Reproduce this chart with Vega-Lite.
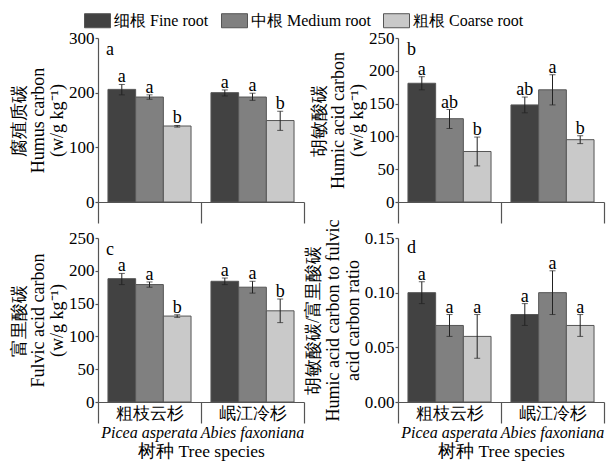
{
  "$schema": "https://vega.github.io/schema/vega-lite/v6.json",
  "padding": {"left": 10, "top": 7, "right": 6, "bottom": 2},
  "background": "#ffffff",
  "config": {
    "font": "Liberation Serif",
    "view": {"stroke": null},
    "axis": {
      "grid": false,
      "domainColor": "#555555",
      "tickColor": "#555555",
      "domainWidth": 1.2,
      "tickWidth": 1.2,
      "labelColor": "#000000",
      "titleColor": "#000000",
      "labelFont": "Liberation Serif",
      "titleFont": "Liberation Serif",
      "titleFontWeight": "normal",
      "labelFontSize": 17,
      "titleFontSize": 18
    },
    "legend": {
      "labelFont": "Liberation Serif",
      "labelFontSize": 16,
      "labelColor": "#000000",
      "symbolType": "M-1,-0.54H1V0.54H-1Z",
      "symbolSize": 676,
      "symbolStrokeColor": "#555555",
      "symbolStrokeWidth": 1,
      "symbolOpacity": 1,
      "columnPadding": 10,
      "labelOffset": 3
    }
  },
  "data": {"values": [
    {"panel": "a", "species": "粗枝云杉", "root": "细根 Fine root", "value": 206, "lo": 196, "hi": 215, "sig": "a"},
    {"panel": "a", "species": "粗枝云杉", "root": "中根 Medium root", "value": 192, "lo": 188, "hi": 196, "sig": "a"},
    {"panel": "a", "species": "粗枝云杉", "root": "粗根 Coarse root", "value": 139, "lo": 137, "hi": 140, "sig": "b"},
    {"panel": "a", "species": "岷江冷杉", "root": "细根 Fine root", "value": 200, "lo": 194, "hi": 205, "sig": "a"},
    {"panel": "a", "species": "岷江冷杉", "root": "中根 Medium root", "value": 192, "lo": 186, "hi": 199, "sig": "a"},
    {"panel": "a", "species": "岷江冷杉", "root": "粗根 Coarse root", "value": 149, "lo": 131, "hi": 166, "sig": "b"},
    {"panel": "b", "species": "粗枝云杉", "root": "细根 Fine root", "value": 181, "lo": 171, "hi": 191, "sig": "a"},
    {"panel": "b", "species": "粗枝云杉", "root": "中根 Medium root", "value": 127, "lo": 112, "hi": 141, "sig": "ab"},
    {"panel": "b", "species": "粗枝云杉", "root": "粗根 Coarse root", "value": 77, "lo": 55, "hi": 99, "sig": "b"},
    {"panel": "b", "species": "岷江冷杉", "root": "细根 Fine root", "value": 148, "lo": 136, "hi": 160, "sig": "ab"},
    {"panel": "b", "species": "岷江冷杉", "root": "中根 Medium root", "value": 171, "lo": 148, "hi": 194, "sig": "a"},
    {"panel": "b", "species": "岷江冷杉", "root": "粗根 Coarse root", "value": 95, "lo": 89, "hi": 101, "sig": "b"},
    {"panel": "c", "species": "粗枝云杉", "root": "细根 Fine root", "value": 188, "lo": 179, "hi": 196, "sig": "a"},
    {"panel": "c", "species": "粗枝云杉", "root": "中根 Medium root", "value": 179, "lo": 175, "hi": 183, "sig": "a"},
    {"panel": "c", "species": "粗枝云杉", "root": "粗根 Coarse root", "value": 131, "lo": 129, "hi": 133, "sig": "b"},
    {"panel": "c", "species": "岷江冷杉", "root": "细根 Fine root", "value": 184, "lo": 179, "hi": 189, "sig": "a"},
    {"panel": "c", "species": "岷江冷杉", "root": "中根 Medium root", "value": 175, "lo": 166, "hi": 184, "sig": "a"},
    {"panel": "c", "species": "岷江冷杉", "root": "粗根 Coarse root", "value": 139, "lo": 121, "hi": 157, "sig": "b"},
    {"panel": "d", "species": "粗枝云杉", "root": "细根 Fine root", "value": 0.10, "lo": 0.09, "hi": 0.11, "sig": "a"},
    {"panel": "d", "species": "粗枝云杉", "root": "中根 Medium root", "value": 0.07, "lo": 0.06, "hi": 0.08, "sig": "a"},
    {"panel": "d", "species": "粗枝云杉", "root": "粗根 Coarse root", "value": 0.06, "lo": 0.04, "hi": 0.08, "sig": "a"},
    {"panel": "d", "species": "岷江冷杉", "root": "细根 Fine root", "value": 0.08, "lo": 0.07, "hi": 0.09, "sig": "a"},
    {"panel": "d", "species": "岷江冷杉", "root": "中根 Medium root", "value": 0.10, "lo": 0.08, "hi": 0.12, "sig": "a"},
    {"panel": "d", "species": "岷江冷杉", "root": "粗根 Coarse root", "value": 0.07, "lo": 0.06, "hi": 0.08, "sig": "a"}
  ]},
  "columns": 2,
  "bounds": "flush",
  "spacing": {"row": 36, "column": 94},
  "concat": [
    {
      "width": 206, "height": 164,
      "layer": [
        {"transform": [{"filter": "datum.panel === 'a'"}],
         "mark": {"type": "bar", "stroke": "#555555", "strokeWidth": 1},
         "encoding": {
           "x": {"field": "species", "type": "nominal", "sort": ["粗枝云杉", "岷江冷杉"], "scale": {"domain": ["粗枝云杉", "岷江冷杉"], "paddingInner": 0, "paddingOuter": 0}, "axis": {"orient": "bottom", "labels": false, "title": null, "tickBand": "extent", "tickSize": 21, "domain": true, "ticks": true}},
           "xOffset": {"field": "root", "type": "nominal", "sort": ["细根 Fine root", "中根 Medium root", "粗根 Coarse root"], "scale": {"paddingInner": 0, "paddingOuter": 0.36}},
           "y": {"field": "value", "type": "quantitative", "scale": {"domain": [0, 300], "nice": false}, "axis": {"values": [0, 100, 200, 300], "title": ["腐殖质碳", "Humus carbon", "(w/g kg⁻¹)"], "titleLineHeight": 19, "tickSize": 3, "labelPadding": 1, "titlePadding": 2, "labelFont": "Liberation Serif", "titleFont": "Liberation Serif"}},
           "color": {"field": "root", "type": "nominal", "sort": ["细根 Fine root", "中根 Medium root", "粗根 Coarse root"], "scale": {"domain": ["细根 Fine root", "中根 Medium root", "粗根 Coarse root"], "range": ["#424242", "#808080", "#c9c9c9"]}, "legend": {"orient": "none", "legendX": -14, "legendY": -31, "direction": "horizontal", "title": null}}
         }},
        {"transform": [{"filter": "datum.panel === 'a'"}],
         "mark": {"type": "rule", "color": "#222222", "strokeWidth": 1},
         "encoding": {
           "x": {"field": "species", "type": "nominal", "sort": ["粗枝云杉", "岷江冷杉"], "axis": {"orient": "bottom", "labels": false, "ticks": false, "domain": false, "title": null}},
           "xOffset": {"field": "root", "type": "nominal", "sort": ["细根 Fine root", "中根 Medium root", "粗根 Coarse root"]},
           "y": {"field": "lo", "type": "quantitative", "axis": {"values": [0, 100, 200, 300], "title": ["腐殖质碳", "Humus carbon", "(w/g kg⁻¹)"], "titleLineHeight": 19, "tickSize": 3, "labelPadding": 1, "titlePadding": 2, "labelFont": "Liberation Serif", "titleFont": "Liberation Serif"}},
           "y2": {"field": "hi"}
         }},
        {"transform": [{"filter": "datum.panel === 'a'"}],
         "mark": {"type": "tick", "color": "#222222", "size": 6, "thickness": 1},
         "encoding": {
           "x": {"field": "species", "type": "nominal", "sort": ["粗枝云杉", "岷江冷杉"], "axis": {"orient": "bottom", "labels": false, "ticks": false, "domain": false, "title": null}},
           "xOffset": {"field": "root", "type": "nominal", "sort": ["细根 Fine root", "中根 Medium root", "粗根 Coarse root"]},
           "y": {"field": "lo", "type": "quantitative", "axis": {"values": [0, 100, 200, 300], "title": ["腐殖质碳", "Humus carbon", "(w/g kg⁻¹)"], "titleLineHeight": 19, "tickSize": 3, "labelPadding": 1, "titlePadding": 2, "labelFont": "Liberation Serif", "titleFont": "Liberation Serif"}}
         }},
        {"transform": [{"filter": "datum.panel === 'a'"}],
         "mark": {"type": "tick", "color": "#222222", "size": 6, "thickness": 1},
         "encoding": {
           "x": {"field": "species", "type": "nominal", "sort": ["粗枝云杉", "岷江冷杉"], "axis": {"orient": "bottom", "labels": false, "ticks": false, "domain": false, "title": null}},
           "xOffset": {"field": "root", "type": "nominal", "sort": ["细根 Fine root", "中根 Medium root", "粗根 Coarse root"]},
           "y": {"field": "hi", "type": "quantitative", "axis": {"values": [0, 100, 200, 300], "title": ["腐殖质碳", "Humus carbon", "(w/g kg⁻¹)"], "titleLineHeight": 19, "tickSize": 3, "labelPadding": 1, "titlePadding": 2, "labelFont": "Liberation Serif", "titleFont": "Liberation Serif"}}
         }},
        {"transform": [{"filter": "datum.panel === 'a'"}],
         "mark": {"type": "text", "font": "Liberation Serif", "fontSize": 18, "baseline": "alphabetic", "dy": -2, "color": "#000000"},
         "encoding": {
           "x": {"field": "species", "type": "nominal", "sort": ["粗枝云杉", "岷江冷杉"], "axis": {"orient": "bottom", "labels": false, "ticks": false, "domain": false, "title": null}},
           "xOffset": {"field": "root", "type": "nominal", "sort": ["细根 Fine root", "中根 Medium root", "粗根 Coarse root"]},
           "y": {"field": "hi", "type": "quantitative", "axis": {"values": [0, 100, 200, 300], "title": ["腐殖质碳", "Humus carbon", "(w/g kg⁻¹)"], "titleLineHeight": 19, "tickSize": 3, "labelPadding": 1, "titlePadding": 2, "labelFont": "Liberation Serif", "titleFont": "Liberation Serif"}},
           "text": {"field": "sig"}
         }},
        {"data": {"values": [{"letter": "a"}]},
         "mark": {"type": "text", "font": "Liberation Serif", "fontSize": 18, "align": "left", "baseline": "middle", "dx": 8, "dy": 12, "color": "#000000"},
         "encoding": {
           "x": {"datum": "粗枝云杉", "type": "nominal", "bandPosition": 0, "axis": {"orient": "bottom", "labels": false, "ticks": false, "domain": false, "title": null}},
           "y": {"datum": 300, "type": "quantitative", "axis": {"values": [0, 100, 200, 300], "title": ["腐殖质碳", "Humus carbon", "(w/g kg⁻¹)"], "titleLineHeight": 19, "tickSize": 3, "labelPadding": 1, "titlePadding": 2, "labelFont": "Liberation Serif", "titleFont": "Liberation Serif"}},
           "text": {"field": "letter"}
         }}
      ],
      "resolve": {"axis": {"x": "independent"}}
    },
    {
      "width": 206, "height": 164,
      "layer": [
        {"transform": [{"filter": "datum.panel === 'b'"}],
         "mark": {"type": "bar", "stroke": "#555555", "strokeWidth": 1},
         "encoding": {
           "x": {"field": "species", "type": "nominal", "sort": ["粗枝云杉", "岷江冷杉"], "scale": {"domain": ["粗枝云杉", "岷江冷杉"], "paddingInner": 0, "paddingOuter": 0}, "axis": {"orient": "bottom", "labels": false, "title": null, "tickBand": "extent", "tickSize": 21, "domain": true, "ticks": true}},
           "xOffset": {"field": "root", "type": "nominal", "sort": ["细根 Fine root", "中根 Medium root", "粗根 Coarse root"], "scale": {"paddingInner": 0, "paddingOuter": 0.36}},
           "y": {"field": "value", "type": "quantitative", "scale": {"domain": [0, 250], "nice": false}, "axis": {"values": [0, 50, 100, 150, 200, 250], "title": ["胡敏酸碳", "Humic acid carbon", "(w/g kg⁻¹)"], "titleLineHeight": 19, "tickSize": 3, "labelPadding": 1, "titlePadding": 2, "labelFont": "Liberation Serif", "titleFont": "Liberation Serif"}},
           "color": {"field": "root", "type": "nominal", "sort": ["细根 Fine root", "中根 Medium root", "粗根 Coarse root"], "scale": {"domain": ["细根 Fine root", "中根 Medium root", "粗根 Coarse root"], "range": ["#424242", "#808080", "#c9c9c9"]}, "legend": {"orient": "none", "legendX": -14, "legendY": -31, "direction": "horizontal", "title": null}}
         }},
        {"transform": [{"filter": "datum.panel === 'b'"}],
         "mark": {"type": "rule", "color": "#222222", "strokeWidth": 1},
         "encoding": {
           "x": {"field": "species", "type": "nominal", "sort": ["粗枝云杉", "岷江冷杉"], "axis": {"orient": "bottom", "labels": false, "ticks": false, "domain": false, "title": null}},
           "xOffset": {"field": "root", "type": "nominal", "sort": ["细根 Fine root", "中根 Medium root", "粗根 Coarse root"]},
           "y": {"field": "lo", "type": "quantitative", "axis": {"values": [0, 50, 100, 150, 200, 250], "title": ["胡敏酸碳", "Humic acid carbon", "(w/g kg⁻¹)"], "titleLineHeight": 19, "tickSize": 3, "labelPadding": 1, "titlePadding": 2, "labelFont": "Liberation Serif", "titleFont": "Liberation Serif"}},
           "y2": {"field": "hi"}
         }},
        {"transform": [{"filter": "datum.panel === 'b'"}],
         "mark": {"type": "tick", "color": "#222222", "size": 6, "thickness": 1},
         "encoding": {
           "x": {"field": "species", "type": "nominal", "sort": ["粗枝云杉", "岷江冷杉"], "axis": {"orient": "bottom", "labels": false, "ticks": false, "domain": false, "title": null}},
           "xOffset": {"field": "root", "type": "nominal", "sort": ["细根 Fine root", "中根 Medium root", "粗根 Coarse root"]},
           "y": {"field": "lo", "type": "quantitative", "axis": {"values": [0, 50, 100, 150, 200, 250], "title": ["胡敏酸碳", "Humic acid carbon", "(w/g kg⁻¹)"], "titleLineHeight": 19, "tickSize": 3, "labelPadding": 1, "titlePadding": 2, "labelFont": "Liberation Serif", "titleFont": "Liberation Serif"}}
         }},
        {"transform": [{"filter": "datum.panel === 'b'"}],
         "mark": {"type": "tick", "color": "#222222", "size": 6, "thickness": 1},
         "encoding": {
           "x": {"field": "species", "type": "nominal", "sort": ["粗枝云杉", "岷江冷杉"], "axis": {"orient": "bottom", "labels": false, "ticks": false, "domain": false, "title": null}},
           "xOffset": {"field": "root", "type": "nominal", "sort": ["细根 Fine root", "中根 Medium root", "粗根 Coarse root"]},
           "y": {"field": "hi", "type": "quantitative", "axis": {"values": [0, 50, 100, 150, 200, 250], "title": ["胡敏酸碳", "Humic acid carbon", "(w/g kg⁻¹)"], "titleLineHeight": 19, "tickSize": 3, "labelPadding": 1, "titlePadding": 2, "labelFont": "Liberation Serif", "titleFont": "Liberation Serif"}}
         }},
        {"transform": [{"filter": "datum.panel === 'b'"}],
         "mark": {"type": "text", "font": "Liberation Serif", "fontSize": 18, "baseline": "alphabetic", "dy": -2, "color": "#000000"},
         "encoding": {
           "x": {"field": "species", "type": "nominal", "sort": ["粗枝云杉", "岷江冷杉"], "axis": {"orient": "bottom", "labels": false, "ticks": false, "domain": false, "title": null}},
           "xOffset": {"field": "root", "type": "nominal", "sort": ["细根 Fine root", "中根 Medium root", "粗根 Coarse root"]},
           "y": {"field": "hi", "type": "quantitative", "axis": {"values": [0, 50, 100, 150, 200, 250], "title": ["胡敏酸碳", "Humic acid carbon", "(w/g kg⁻¹)"], "titleLineHeight": 19, "tickSize": 3, "labelPadding": 1, "titlePadding": 2, "labelFont": "Liberation Serif", "titleFont": "Liberation Serif"}},
           "text": {"field": "sig"}
         }},
        {"data": {"values": [{"letter": "b"}]},
         "mark": {"type": "text", "font": "Liberation Serif", "fontSize": 18, "align": "left", "baseline": "middle", "dx": 9, "dy": 12, "color": "#000000"},
         "encoding": {
           "x": {"datum": "粗枝云杉", "type": "nominal", "bandPosition": 0, "axis": {"orient": "bottom", "labels": false, "ticks": false, "domain": false, "title": null}},
           "y": {"datum": 250, "type": "quantitative", "axis": {"values": [0, 50, 100, 150, 200, 250], "title": ["胡敏酸碳", "Humic acid carbon", "(w/g kg⁻¹)"], "titleLineHeight": 19, "tickSize": 3, "labelPadding": 1, "titlePadding": 2, "labelFont": "Liberation Serif", "titleFont": "Liberation Serif"}},
           "text": {"field": "letter"}
         }}
      ],
      "resolve": {"axis": {"x": "independent"}}
    },
    {
      "width": 206, "height": 164,
      "layer": [
        {"transform": [{"filter": "datum.panel === 'c'"}],
         "mark": {"type": "bar", "stroke": "#555555", "strokeWidth": 1},
         "encoding": {
           "x": {"field": "species", "type": "nominal", "sort": ["粗枝云杉", "岷江冷杉"], "scale": {"domain": ["粗枝云杉", "岷江冷杉"], "paddingInner": 0, "paddingOuter": 0}, "axis": {"orient": "bottom", "labels": false, "title": null, "tickBand": "extent", "tickSize": 21, "domain": true, "ticks": true}},
           "xOffset": {"field": "root", "type": "nominal", "sort": ["细根 Fine root", "中根 Medium root", "粗根 Coarse root"], "scale": {"paddingInner": 0, "paddingOuter": 0.36}},
           "y": {"field": "value", "type": "quantitative", "scale": {"domain": [0, 250], "nice": false}, "axis": {"values": [0, 50, 100, 150, 200, 250], "title": ["富里酸碳", "Fulvic acid carbon", "(w/g kg⁻¹)"], "titleLineHeight": 19, "tickSize": 3, "labelPadding": 1, "titlePadding": 2, "labelFont": "Liberation Serif", "titleFont": "Liberation Serif"}},
           "color": {"field": "root", "type": "nominal", "sort": ["细根 Fine root", "中根 Medium root", "粗根 Coarse root"], "scale": {"domain": ["细根 Fine root", "中根 Medium root", "粗根 Coarse root"], "range": ["#424242", "#808080", "#c9c9c9"]}, "legend": {"orient": "none", "legendX": -14, "legendY": -31, "direction": "horizontal", "title": null}}
         }},
        {"transform": [{"filter": "datum.panel === 'c'"}],
         "mark": {"type": "rule", "color": "#222222", "strokeWidth": 1},
         "encoding": {
           "x": {"field": "species", "type": "nominal", "sort": ["粗枝云杉", "岷江冷杉"], "axis": {"orient": "bottom", "ticks": false, "domain": false, "title": null, "labelPadding": 3, "labelFontSize": 17, "labelAngle": 0, "labelFont": "Liberation Serif"}},
           "xOffset": {"field": "root", "type": "nominal", "sort": ["细根 Fine root", "中根 Medium root", "粗根 Coarse root"]},
           "y": {"field": "lo", "type": "quantitative", "axis": {"values": [0, 50, 100, 150, 200, 250], "title": ["富里酸碳", "Fulvic acid carbon", "(w/g kg⁻¹)"], "titleLineHeight": 19, "tickSize": 3, "labelPadding": 1, "titlePadding": 2, "labelFont": "Liberation Serif", "titleFont": "Liberation Serif"}},
           "y2": {"field": "hi"}
         }},
        {"transform": [{"filter": "datum.panel === 'c'"}],
         "mark": {"type": "tick", "color": "#222222", "size": 6, "thickness": 1},
         "encoding": {
           "x": {"field": "species", "type": "nominal", "sort": ["粗枝云杉", "岷江冷杉"], "axis": {"orient": "bottom", "labels": false, "ticks": false, "domain": false, "title": null}},
           "xOffset": {"field": "root", "type": "nominal", "sort": ["细根 Fine root", "中根 Medium root", "粗根 Coarse root"]},
           "y": {"field": "lo", "type": "quantitative", "axis": {"values": [0, 50, 100, 150, 200, 250], "title": ["富里酸碳", "Fulvic acid carbon", "(w/g kg⁻¹)"], "titleLineHeight": 19, "tickSize": 3, "labelPadding": 1, "titlePadding": 2, "labelFont": "Liberation Serif", "titleFont": "Liberation Serif"}}
         }},
        {"transform": [{"filter": "datum.panel === 'c'"}],
         "mark": {"type": "tick", "color": "#222222", "size": 6, "thickness": 1},
         "encoding": {
           "x": {"field": "species", "type": "nominal", "sort": ["粗枝云杉", "岷江冷杉"], "axis": {"orient": "bottom", "labels": false, "ticks": false, "domain": false, "title": null}},
           "xOffset": {"field": "root", "type": "nominal", "sort": ["细根 Fine root", "中根 Medium root", "粗根 Coarse root"]},
           "y": {"field": "hi", "type": "quantitative", "axis": {"values": [0, 50, 100, 150, 200, 250], "title": ["富里酸碳", "Fulvic acid carbon", "(w/g kg⁻¹)"], "titleLineHeight": 19, "tickSize": 3, "labelPadding": 1, "titlePadding": 2, "labelFont": "Liberation Serif", "titleFont": "Liberation Serif"}}
         }},
        {"transform": [{"filter": "datum.panel === 'c'"}],
         "mark": {"type": "text", "font": "Liberation Serif", "fontSize": 18, "baseline": "alphabetic", "dy": -2, "color": "#000000"},
         "encoding": {
           "x": {"field": "species", "type": "nominal", "sort": ["粗枝云杉", "岷江冷杉"], "axis": {"orient": "bottom", "ticks": false, "domain": false, "labelPadding": 22, "labelFontSize": 16, "labelFontStyle": "italic", "labelFont": "Liberation Serif", "labelAngle": 0, "labelOverlap": false, "labelBound": false, "labelFlush": false, "labelExpr": "datum.value === '粗枝云杉' ? 'Picea asperata' : 'Abies faxoniana'", "title": "树种 Tree species", "titleFont": "Liberation Serif", "titlePadding": 2, "titleFontSize": 17.5}},
           "xOffset": {"field": "root", "type": "nominal", "sort": ["细根 Fine root", "中根 Medium root", "粗根 Coarse root"]},
           "y": {"field": "hi", "type": "quantitative", "axis": {"values": [0, 50, 100, 150, 200, 250], "title": ["富里酸碳", "Fulvic acid carbon", "(w/g kg⁻¹)"], "titleLineHeight": 19, "tickSize": 3, "labelPadding": 1, "titlePadding": 2, "labelFont": "Liberation Serif", "titleFont": "Liberation Serif"}},
           "text": {"field": "sig"}
         }},
        {"data": {"values": [{"letter": "c"}]},
         "mark": {"type": "text", "font": "Liberation Serif", "fontSize": 18, "align": "left", "baseline": "middle", "dx": 8, "dy": 12, "color": "#000000"},
         "encoding": {
           "x": {"datum": "粗枝云杉", "type": "nominal", "bandPosition": 0, "axis": {"orient": "bottom", "labels": false, "ticks": false, "domain": false, "title": null}},
           "y": {"datum": 250, "type": "quantitative", "axis": {"values": [0, 50, 100, 150, 200, 250], "title": ["富里酸碳", "Fulvic acid carbon", "(w/g kg⁻¹)"], "titleLineHeight": 19, "tickSize": 3, "labelPadding": 1, "titlePadding": 2, "labelFont": "Liberation Serif", "titleFont": "Liberation Serif"}},
           "text": {"field": "letter"}
         }}
      ],
      "resolve": {"axis": {"x": "independent"}}
    },
    {
      "width": 206, "height": 164,
      "layer": [
        {"transform": [{"filter": "datum.panel === 'd'"}],
         "mark": {"type": "bar", "stroke": "#555555", "strokeWidth": 1},
         "encoding": {
           "x": {"field": "species", "type": "nominal", "sort": ["粗枝云杉", "岷江冷杉"], "scale": {"domain": ["粗枝云杉", "岷江冷杉"], "paddingInner": 0, "paddingOuter": 0}, "axis": {"orient": "bottom", "labels": false, "title": null, "tickBand": "extent", "tickSize": 21, "domain": true, "ticks": true}},
           "xOffset": {"field": "root", "type": "nominal", "sort": ["细根 Fine root", "中根 Medium root", "粗根 Coarse root"], "scale": {"paddingInner": 0, "paddingOuter": 0.36}},
           "y": {"field": "value", "type": "quantitative", "scale": {"domain": [0, 0.15], "nice": false}, "axis": {"values": [0, 0.05, 0.1, 0.15], "format": ".2f", "title": ["胡敏酸碳/富里酸碳", "Humic acid carbon to fulvic", "acid carbon ratio"], "titleLineHeight": 20, "tickSize": 3, "labelPadding": 1, "titlePadding": 2, "labelFont": "Liberation Serif", "titleFont": "Liberation Serif"}},
           "color": {"field": "root", "type": "nominal", "sort": ["细根 Fine root", "中根 Medium root", "粗根 Coarse root"], "scale": {"domain": ["细根 Fine root", "中根 Medium root", "粗根 Coarse root"], "range": ["#424242", "#808080", "#c9c9c9"]}, "legend": {"orient": "none", "legendX": -14, "legendY": -31, "direction": "horizontal", "title": null}}
         }},
        {"transform": [{"filter": "datum.panel === 'd'"}],
         "mark": {"type": "rule", "color": "#222222", "strokeWidth": 1},
         "encoding": {
           "x": {"field": "species", "type": "nominal", "sort": ["粗枝云杉", "岷江冷杉"], "axis": {"orient": "bottom", "ticks": false, "domain": false, "title": null, "labelPadding": 3, "labelFontSize": 17, "labelAngle": 0, "labelFont": "Liberation Serif"}},
           "xOffset": {"field": "root", "type": "nominal", "sort": ["细根 Fine root", "中根 Medium root", "粗根 Coarse root"]},
           "y": {"field": "lo", "type": "quantitative", "axis": {"values": [0, 0.05, 0.1, 0.15], "format": ".2f", "title": ["胡敏酸碳/富里酸碳", "Humic acid carbon to fulvic", "acid carbon ratio"], "titleLineHeight": 20, "tickSize": 3, "labelPadding": 1, "titlePadding": 2, "labelFont": "Liberation Serif", "titleFont": "Liberation Serif"}},
           "y2": {"field": "hi"}
         }},
        {"transform": [{"filter": "datum.panel === 'd'"}],
         "mark": {"type": "tick", "color": "#222222", "size": 6, "thickness": 1},
         "encoding": {
           "x": {"field": "species", "type": "nominal", "sort": ["粗枝云杉", "岷江冷杉"], "axis": {"orient": "bottom", "labels": false, "ticks": false, "domain": false, "title": null}},
           "xOffset": {"field": "root", "type": "nominal", "sort": ["细根 Fine root", "中根 Medium root", "粗根 Coarse root"]},
           "y": {"field": "lo", "type": "quantitative", "axis": {"values": [0, 0.05, 0.1, 0.15], "format": ".2f", "title": ["胡敏酸碳/富里酸碳", "Humic acid carbon to fulvic", "acid carbon ratio"], "titleLineHeight": 20, "tickSize": 3, "labelPadding": 1, "titlePadding": 2, "labelFont": "Liberation Serif", "titleFont": "Liberation Serif"}}
         }},
        {"transform": [{"filter": "datum.panel === 'd'"}],
         "mark": {"type": "tick", "color": "#222222", "size": 6, "thickness": 1},
         "encoding": {
           "x": {"field": "species", "type": "nominal", "sort": ["粗枝云杉", "岷江冷杉"], "axis": {"orient": "bottom", "labels": false, "ticks": false, "domain": false, "title": null}},
           "xOffset": {"field": "root", "type": "nominal", "sort": ["细根 Fine root", "中根 Medium root", "粗根 Coarse root"]},
           "y": {"field": "hi", "type": "quantitative", "axis": {"values": [0, 0.05, 0.1, 0.15], "format": ".2f", "title": ["胡敏酸碳/富里酸碳", "Humic acid carbon to fulvic", "acid carbon ratio"], "titleLineHeight": 20, "tickSize": 3, "labelPadding": 1, "titlePadding": 2, "labelFont": "Liberation Serif", "titleFont": "Liberation Serif"}}
         }},
        {"transform": [{"filter": "datum.panel === 'd'"}],
         "mark": {"type": "text", "font": "Liberation Serif", "fontSize": 18, "baseline": "alphabetic", "dy": -2, "color": "#000000"},
         "encoding": {
           "x": {"field": "species", "type": "nominal", "sort": ["粗枝云杉", "岷江冷杉"], "axis": {"orient": "bottom", "ticks": false, "domain": false, "labelPadding": 22, "labelFontSize": 16, "labelFontStyle": "italic", "labelFont": "Liberation Serif", "labelAngle": 0, "labelOverlap": false, "labelBound": false, "labelFlush": false, "labelExpr": "datum.value === '粗枝云杉' ? 'Picea asperata' : 'Abies faxoniana'", "title": "树种 Tree species", "titleFont": "Liberation Serif", "titlePadding": 2, "titleFontSize": 17.5}},
           "xOffset": {"field": "root", "type": "nominal", "sort": ["细根 Fine root", "中根 Medium root", "粗根 Coarse root"]},
           "y": {"field": "hi", "type": "quantitative", "axis": {"values": [0, 0.05, 0.1, 0.15], "format": ".2f", "title": ["胡敏酸碳/富里酸碳", "Humic acid carbon to fulvic", "acid carbon ratio"], "titleLineHeight": 20, "tickSize": 3, "labelPadding": 1, "titlePadding": 2, "labelFont": "Liberation Serif", "titleFont": "Liberation Serif"}},
           "text": {"field": "sig"}
         }},
        {"data": {"values": [{"letter": "d"}]},
         "mark": {"type": "text", "font": "Liberation Serif", "fontSize": 18, "align": "left", "baseline": "middle", "dx": 9, "dy": 10, "color": "#000000"},
         "encoding": {
           "x": {"datum": "粗枝云杉", "type": "nominal", "bandPosition": 0, "axis": {"orient": "bottom", "labels": false, "ticks": false, "domain": false, "title": null}},
           "y": {"datum": 0.15, "type": "quantitative", "axis": {"values": [0, 0.05, 0.1, 0.15], "format": ".2f", "title": ["胡敏酸碳/富里酸碳", "Humic acid carbon to fulvic", "acid carbon ratio"], "titleLineHeight": 20, "tickSize": 3, "labelPadding": 1, "titlePadding": 2, "labelFont": "Liberation Serif", "titleFont": "Liberation Serif"}},
           "text": {"field": "letter"}
         }}
      ],
      "resolve": {"axis": {"x": "independent"}}
    }
  ]
}
